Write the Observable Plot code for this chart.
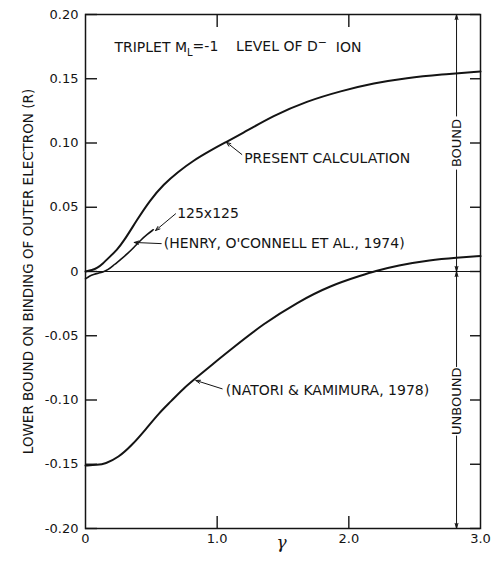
<!DOCTYPE html>
<html>
<head>
<meta charset="utf-8">
<script src="https://cdn.jsdelivr.net/npm/d3@7"></script>
<script src="https://cdn.jsdelivr.net/npm/@observablehq/plot@0.6"></script>
<style>
  html, body { margin: 0; padding: 0; background: #fff; }
</style>
</head>
<body>
<div id="chart"></div>
<script>
// ---- data ----
const presentGamma = [0, 0.05, 0.09, 0.13, 0.18, 0.24, 0.29, 0.39, 0.49, 0.595, 0.70, 0.82, 0.95, 1.05, 1.18, 1.43, 1.68, 1.94, 2.19, 2.44, 2.7, 3.0];
const presentBind  = [0, 0.001, 0.0028, 0.006, 0.011, 0.017, 0.0235, 0.040, 0.0555, 0.068, 0.0773, 0.0864, 0.0942, 0.0998, 0.1068, 0.1215, 0.1325, 0.1405, 0.1466, 0.1507, 0.1533, 0.1556];

const henryGamma = [0, 0.03, 0.06, 0.1, 0.13, 0.17, 0.22, 0.27, 0.32, 0.37, 0.42, 0.47, 0.515];
const henryBind  = [-0.0057, -0.0035, -0.0022, -0.0012, -0.0005, 0.0012, 0.0055, 0.0095, 0.014, 0.019, 0.0245, 0.029, 0.0325];

const natoriGamma = [0, 0.09, 0.15, 0.25, 0.35, 0.46, 0.56, 0.65, 0.74, 0.85, 0.975, 1.1, 1.35, 1.61, 1.86, 2.11, 2.19, 2.37, 2.62, 2.82, 3.0];
const natoriBind  = [-0.151, -0.1505, -0.1497, -0.1447, -0.1355, -0.1225, -0.110, -0.1010, -0.0913, -0.082, -0.0713, -0.061, -0.0407, -0.0239, -0.0109, -0.0026, 0, 0.0047, 0.009, 0.0107, 0.012];

const yTicks = [-0.2, -0.15, -0.1, -0.05, 0, 0.05, 0.1, 0.15, 0.2];
const yTickLabels = ["-0.20", "-0.15", "-0.10", "-0.05", "0", "0.05", "0.10", "0.15", "0.20"];
const xTicks = [0, 1, 2, 3];
const xTickLabels = ["0", "1.0", "2.0", "3.0"];
const xInnerTicks = [1, 2];

const yTitle = "LOWER BOUND ON BINDING OF OUTER ELECTRON (R)";
const xTitle = "γ";
const chartTitle = "TRIPLET ML=-1   LEVEL OF D⁻ ION";

// annotation labels: text, anchor position, arrow tail and tip (data coords)
const noteText  = ["PRESENT CALCULATION", "125x125", "(HENRY, O'CONNELL ET AL., 1974)", "(NATORI & KAMIMURA, 1978)"];
const noteX     = [1.205, 0.696, 0.595, 1.065];
const noteY     = [0.088, 0.0451, 0.0218, -0.0926];
const arrowX1   = [1.187, 0.684, 0.575, 1.038];
const arrowY1   = [0.0911, 0.0449, 0.0217, -0.0913];
const arrowX2   = [1.07, 0.532, 0.37, 0.838];
const arrowY2   = [0.1006, 0.0319, 0.0226, -0.0848];

// bound / unbound bracket
const boundX = 2.818;
const regionText = ["BOUND", "UNBOUND"];
const regionY = [0.1, -0.101];
const bracketFrom = [0.121, 0.079, -0.074, -0.128];
const bracketTo   = [0.2, 0, 0, -0.2];

const toRows = (xs, ys) => xs.map((x, i) => ({x, y: ys[i]}));
const present = toRows(presentGamma, presentBind);
const henry = toRows(henryGamma, henryBind);
const natori = toRows(natoriGamma, natoriBind);
const notes = noteText.map((t, i) => ({t, x: noteX[i], y: noteY[i], x1: arrowX1[i], y1: arrowY1[i], x2: arrowX2[i], y2: arrowY2[i]}));
const regions = regionText.map((t, i) => ({t, y: regionY[i]}));
const brackets = bracketFrom.map((f, i) => ({y1: f, y2: bracketTo[i]}));

const W = 495, H = 563, ML = 85, MR = 15, MT = 14, MB = 35;
const frameW = W - ML - MR, frameH = H - MT - MB;
const ink = "#141414";
const textFont = {fontFamily: "DejaVu Sans", fontSize: 14, fill: ink};

const plot = Plot.plot({
  width: W,
  height: H,
  marginLeft: ML,
  marginRight: MR,
  marginTop: MT,
  marginBottom: MB,
  x: {domain: [0, 3], axis: null},
  y: {domain: [-0.2, 0.2], axis: null},
  style: {fontFamily: "DejaVu Sans", fontSize: "13px", color: ink, background: "#fff"},
  marks: [
    Plot.frame({stroke: ink, strokeWidth: 1.5}),
    Plot.ruleY([0], {stroke: ink, strokeWidth: 1}),
    // curves
    Plot.line(present, {x: "x", y: "y", curve: "basis", stroke: ink, strokeWidth: 2}),
    Plot.line(henry, {x: "x", y: "y", curve: "basis", stroke: ink, strokeWidth: 1.6}),
    Plot.line(natori, {x: "x", y: "y", curve: "basis", stroke: ink, strokeWidth: 2}),
    // inward ticks (short rules trimmed with pixel insets)
    Plot.ruleY(yTicks, {insetRight: frameW - 12, stroke: ink, strokeWidth: 1.4}),
    Plot.ruleY(yTicks, {insetLeft: frameW - 10, stroke: ink, strokeWidth: 1.4}),
    Plot.ruleX(xInnerTicks, {insetTop: frameH - 12, stroke: ink, strokeWidth: 1.4}),
    Plot.ruleX(xInnerTicks, {insetBottom: frameH - 13, stroke: ink, strokeWidth: 1.4}),
    // tick labels outside the frame
    Plot.text(yTicks, {y: (d) => d, frameAnchor: "left", dx: -7, textAnchor: "end", text: (d, i) => yTickLabels[i], fontFamily: "DejaVu Sans", fontSize: 13, fill: ink}),
    Plot.text(xTicks, {x: (d) => d, frameAnchor: "bottom", dy: 5, lineAnchor: "top", text: (d, i) => xTickLabels[i], fontFamily: "DejaVu Sans", fontSize: 13, fill: ink}),
    // annotations
    Plot.arrow(notes, {x1: "x1", y1: "y1", x2: "x2", y2: "y2", stroke: ink, strokeWidth: 1, headLength: 7, headAngle: 40}),
    Plot.text(notes, {x: "x", y: "y", text: "t", textAnchor: "start", ...textFont}),
    Plot.text([chartTitle], {x: 0.22, y: 0.174, text: (d) => d, textAnchor: "start", ...textFont}),
    // bound / unbound bracket
    Plot.arrow(brackets, {x: boundX, y1: "y1", y2: "y2", stroke: ink, strokeWidth: 1, headLength: 8, headAngle: 30}),
    Plot.text(regions, {x: boundX, y: "y", text: "t", rotate: -90, ...textFont, fontSize: 13}),
    // axis titles
    Plot.text([yTitle], {x: 0, y: 0, dx: -57, text: (d) => d, rotate: -90, ...textFont, fontSize: 13.5}),
    Plot.text([xTitle], {frameAnchor: "bottom", x: 1.49, dy: 19, text: (d) => d, fontFamily: "DejaVu Serif", fontStyle: "italic", fontSize: 17, fill: ink})
  ]
});

// typeset subscript L and superscript minus in the title
const svg = plot.tagName.toLowerCase() === "svg" ? plot : plot.querySelector("svg");
const titleEl = [...svg.querySelectorAll("text")].find((e) => e.textContent.startsWith("TRIPLET"));
if (titleEl) {
  const ns = "http://www.w3.org/2000/svg";
  titleEl.textContent = "";
  const parts = [
    {t: "TRIPLET M"},
    {t: "L", dy: "0.35em", size: "10px"},
    {t: "=-1    LEVEL OF D", dy: "-0.35em"},
    {t: "−", dy: "-0.45em", size: "11px"},
    {t: "  ION", dy: "0.45em"}
  ];
  for (const p of parts) {
    const ts = document.createElementNS(ns, "tspan");
    ts.textContent = p.t;
    if (p.dy) ts.setAttribute("dy", p.dy);
    if (p.size) ts.setAttribute("font-size", p.size);
    titleEl.appendChild(ts);
  }
  titleEl.setAttribute("style", "white-space: pre");
}
document.getElementById("chart").appendChild(plot);
</script>
</body>
</html>
